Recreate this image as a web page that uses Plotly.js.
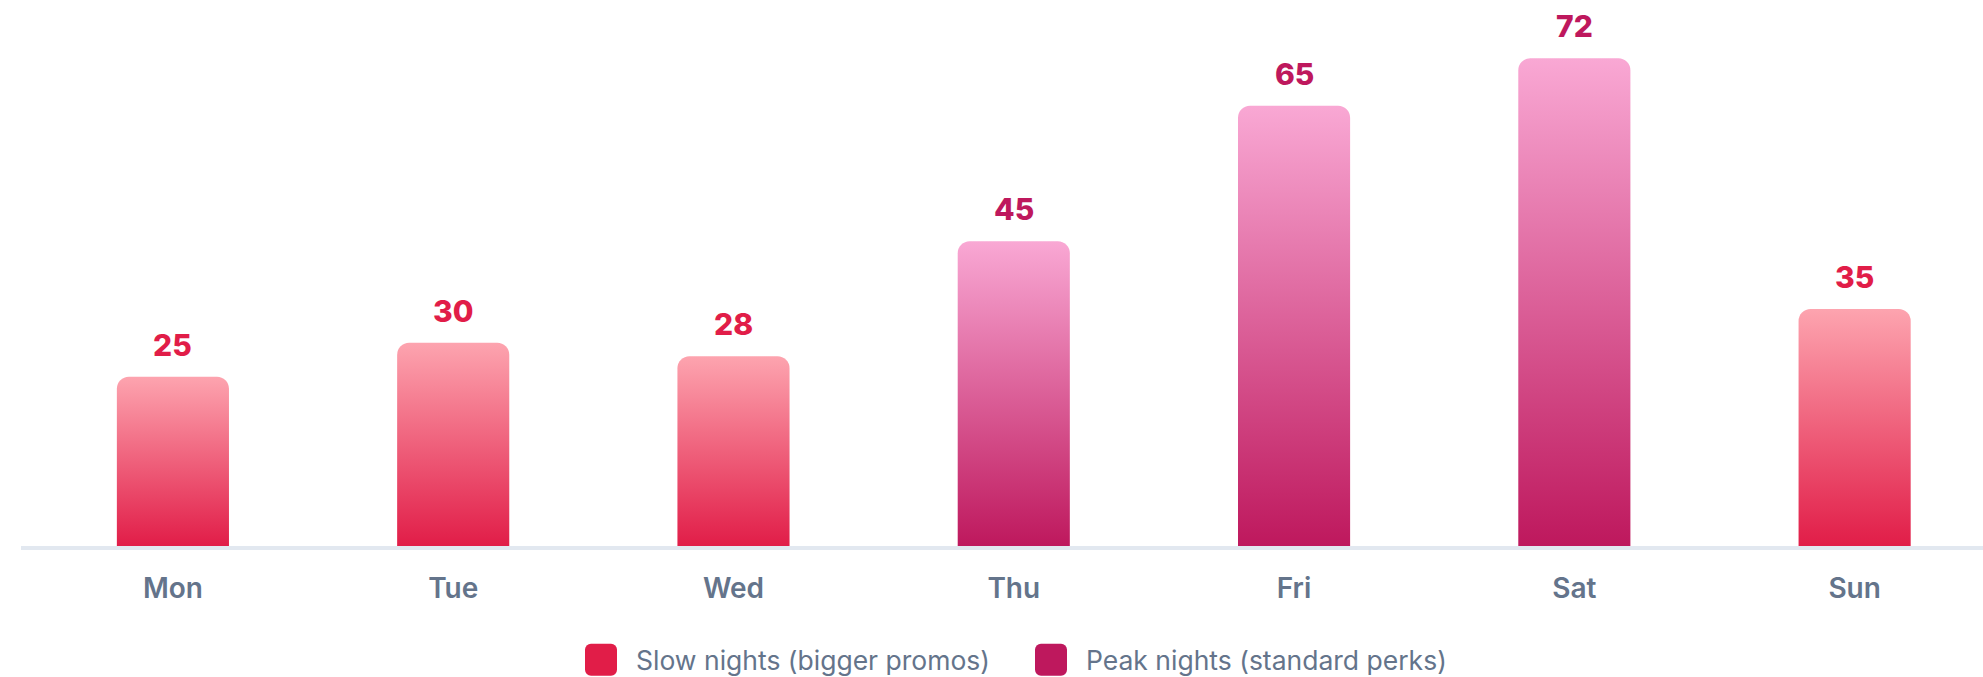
<!DOCTYPE html>
<html>
<head>
<meta charset="utf-8">
<script src="https://cdn.plot.ly/plotly-3.0.1.min.js"></script>
<style>
  html, body { margin: 0; padding: 0; background: #ffffff; }
  #chart { width: 1983px; height: 677px; }
</style>
</head>
<body>
<div id="chart"></div>
<script>
// ---- Data ----
const days = ["Mon", "Tue", "Wed", "Thu", "Fri", "Sat", "Sun"];
const slowDays = ["Mon", "Tue", "Wed", "Sun"];
const slowValues = [25, 30, 28, 35];
const peakDays = ["Thu", "Fri", "Sat"];
const peakValues = [45, 65, 72];
const seriesNames = ["Slow nights (bigger promos)", "Peak nights (standard perks)"];

// ---- Styles ----
const slowTop = "#fda4af", slowBottom = "#e11d48";
const peakTop = "#f9a8d4", peakBottom = "#be185d";
const slate = "#64748b";

const traces = [
  {
    type: "bar", name: seriesNames[0], x: slowDays, y: slowValues,
    width: 0.4, marker: { color: slowBottom, cornerradius: 12, line: { width: 0 } },
    hoverinfo: "x+y"
  },
  {
    type: "bar", name: seriesNames[1], x: peakDays, y: peakValues,
    width: 0.4, marker: { color: peakBottom, cornerradius: 12, line: { width: 0 } },
    hoverinfo: "x+y"
  }
];

const annotations = [];
slowDays.forEach((d, i) => annotations.push({
  x: d, y: slowValues[i], text: String(slowValues[i]), showarrow: false,
  xanchor: "center", yanchor: "bottom", yshift: 12,
  font: { family: "Inter, sans-serif", size: 30, weight: 800, color: slowBottom }
}));
peakDays.forEach((d, i) => annotations.push({
  x: d, y: peakValues[i], text: String(peakValues[i]), showarrow: false,
  xanchor: "center", yanchor: "bottom", yshift: 12,
  font: { family: "Inter, sans-serif", size: 30, weight: 800, color: peakBottom }
}));

const layout = {
  width: 1983, height: 677,
  paper_bgcolor: "#ffffff", plot_bgcolor: "#ffffff",
  margin: { l: 21, r: 0, t: 4, b: 131 },
  barmode: "overlay",
  showlegend: true,
  legend: {
    orientation: "h", xref: "container", yref: "container",
    x: 566 / 1983, xanchor: "left", y: 17 / 677, yanchor: "middle",
    font: { family: "Inter, sans-serif", size: 26.5, color: slate },
    itemwidth: 60, entrywidth: 375, traceorder: "normal"
  },
  xaxis: {
    type: "category", categoryorder: "array", categoryarray: days,
    range: [-0.542, 6.458],
    showline: true, linecolor: "#e2e8f0", linewidth: 4,
    showgrid: false, zeroline: false, ticks: "",
    ticklabelstandoff: 14,
    tickfont: { family: "Inter, sans-serif", size: 28, weight: 600, color: slate },
    fixedrange: true
  },
  yaxis: {
    range: [0, 80], visible: false, showgrid: false, zeroline: false, fixedrange: true
  },
  annotations: annotations,
  font: { family: "Inter, sans-serif" }
};

function addGradients(gd) {
  const svg = gd.querySelector(".main-svg");
  const ns = "http://www.w3.org/2000/svg";
  let defs = svg.querySelector("defs");
  if (!defs) { defs = document.createElementNS(ns, "defs"); svg.insertBefore(defs, svg.firstChild); }
  const grads = [["gradSlow", slowTop, slowBottom], ["gradPeak", peakTop, peakBottom]];
  grads.forEach(([id, top, bottom]) => {
    if (svg.querySelector("#" + id)) return;
    const lg = document.createElementNS(ns, "linearGradient");
    lg.setAttribute("id", id);
    lg.setAttribute("x1", "0"); lg.setAttribute("y1", "0");
    lg.setAttribute("x2", "0"); lg.setAttribute("y2", "1");
    const s1 = document.createElementNS(ns, "stop");
    s1.setAttribute("offset", "0"); s1.setAttribute("stop-color", top);
    const s2 = document.createElementNS(ns, "stop");
    s2.setAttribute("offset", "1"); s2.setAttribute("stop-color", bottom);
    lg.appendChild(s1); lg.appendChild(s2); defs.appendChild(lg);
  });
  const traceGroups = gd.querySelectorAll(".barlayer .trace");
  traceGroups.forEach((g, i) => {
    const id = i === 0 ? "gradSlow" : "gradPeak";
    g.querySelectorAll(".point path").forEach(p => { p.style.fill = "url(#" + id + ")"; });
  });
  // enlarge legend swatches to rounded squares
  gd.querySelectorAll(".legend .legendpoints path").forEach(p => {
    const r = 6, h = 16;
    p.setAttribute("d",
      `M${-h + r},${-h}H${h - r}A${r},${r} 0 0 1 ${h},${-h + r}V${h - r}A${r},${r} 0 0 1 ${h - r},${h}` +
      `H${-h + r}A${r},${r} 0 0 1 ${-h},${h - r}V${-h + r}A${r},${r} 0 0 1 ${-h + r},${-h}Z`);
    p.style.strokeWidth = "0";
  });
}

Plotly.newPlot("chart", traces, layout, { displayModeBar: false, responsive: false })
  .then(gd => { addGradients(gd); gd.on("plotly_afterplot", () => addGradients(gd)); });
</script>
</body>
</html>
